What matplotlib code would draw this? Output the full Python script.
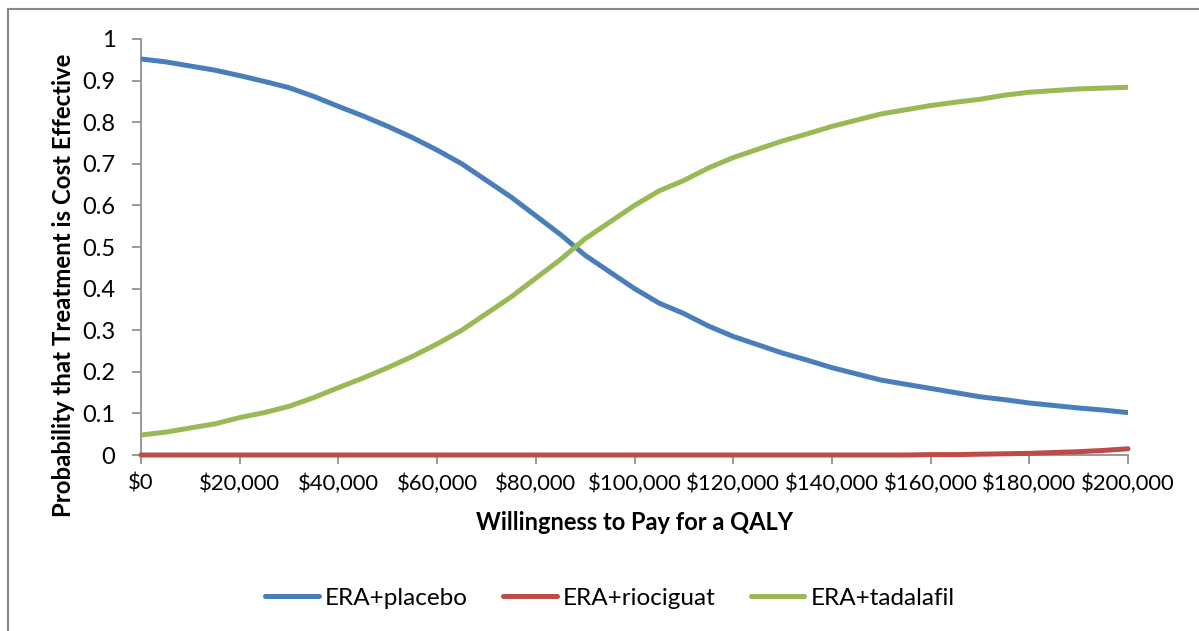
import numpy as np
import matplotlib.pyplot as plt
from matplotlib.patches import Rectangle
from matplotlib.ticker import FuncFormatter, MultipleLocator

plt.rcParams['font.family'] = ['Lato', 'DejaVu Sans']

# willingness to pay ($) and probability cost effective
wtp = [0, 5000, 10000, 15000, 20000, 25000, 30000, 35000, 40000, 45000, 50000,
       55000, 60000, 65000, 70000, 75000, 80000, 85000, 90000, 95000, 100000,
       105000, 110000, 115000, 120000, 125000, 130000, 135000, 140000, 145000, 150000,
       155000, 160000, 165000, 170000, 175000, 180000, 185000, 190000, 195000, 200000]
placebo = [0.952, 0.945, 0.935, 0.925, 0.912, 0.898, 0.883, 0.862, 0.838, 0.815, 0.790,
           0.763, 0.733, 0.700, 0.660, 0.620, 0.575, 0.530, 0.480, 0.440, 0.400,
           0.365, 0.340, 0.310, 0.285, 0.265, 0.245, 0.228, 0.210, 0.195, 0.180,
           0.170, 0.160, 0.150, 0.140, 0.133, 0.125, 0.119, 0.113, 0.108, 0.102]
riociguat = [0.0] * 32 + [0.001, 0.001, 0.002, 0.003, 0.004, 0.006, 0.008, 0.011, 0.015]
tadalafil = [0.048, 0.055, 0.065, 0.075, 0.090, 0.102, 0.117, 0.138, 0.162, 0.185, 0.210,
             0.237, 0.267, 0.300, 0.340, 0.380, 0.425, 0.470, 0.520, 0.560, 0.600,
             0.635, 0.660, 0.690, 0.715, 0.735, 0.755, 0.772, 0.790, 0.805, 0.820,
             0.830, 0.840, 0.848, 0.855, 0.865, 0.872, 0.876, 0.880, 0.882, 0.884]

fig = plt.figure(figsize=(11.99, 6.31), dpi=100)
ax = fig.add_axes([0.1176, 0.2789, 0.8232, 0.6593])

ax.plot(wtp, placebo, color='#4A7EBB', lw=3.6, solid_capstyle='round', label='ERA+placebo',
        zorder=3)
ax.plot(wtp, riociguat, color='#BE4B48', lw=3.6, solid_capstyle='round', label='ERA+riociguat',
        clip_on=False, zorder=3)
ax.plot(wtp, tadalafil, color='#98B954', lw=3.6, solid_capstyle='round', label='ERA+tadalafil',
        zorder=3)

ax.set_xlim(0, 200000)
ax.set_ylim(0, 1)
ax.xaxis.set_major_locator(MultipleLocator(20000))
ax.yaxis.set_major_locator(MultipleLocator(0.1))
ax.xaxis.set_major_formatter(FuncFormatter(lambda v, p: f'${v:,.0f}'))
ax.yaxis.set_major_formatter(FuncFormatter(lambda v, p: f'{v:.1f}' if 0 < round(v, 2) < 1 else f'{int(round(v))}'))

for s in ['top', 'right']:
    ax.spines[s].set_visible(False)
for s in ['left', 'bottom']:
    ax.spines[s].set_color('#888888')
    ax.spines[s].set_linewidth(1.2)
ax.tick_params(axis='both', direction='out', length=6.5, width=1.2, color='#888888')
ax.tick_params(axis='y', pad=12, labelsize=17)
ax.tick_params(axis='x', pad=7, labelsize=15.8)

fig.text(635 / 1199, 1 - 522 / 631, 'Willingness to Pay for a QALY', fontsize=17,
         fontweight='bold', ha='center', va='center')
fig.text(64 / 1199, 1 - 285 / 631, 'Probability that Treatment is Cost Effective', fontsize=17.3,
         fontweight='bold', ha='center', va='center', rotation=90)

fig.legend(loc='center', bbox_to_anchor=(610 / 1199, 1 - 598 / 631), ncol=3, frameon=False,
           fontsize=17.5, handlelength=2.2, columnspacing=1.45, handletextpad=0.25)

# outer chart border
fig.patches.append(Rectangle((8 / 1199, -0.1), 1.2, 1 - 9 / 631 + 0.1,
                             transform=fig.transFigure, fill=False,
                             edgecolor='#888888', lw=1.5))

fig.savefig('out.png', dpi=100)
